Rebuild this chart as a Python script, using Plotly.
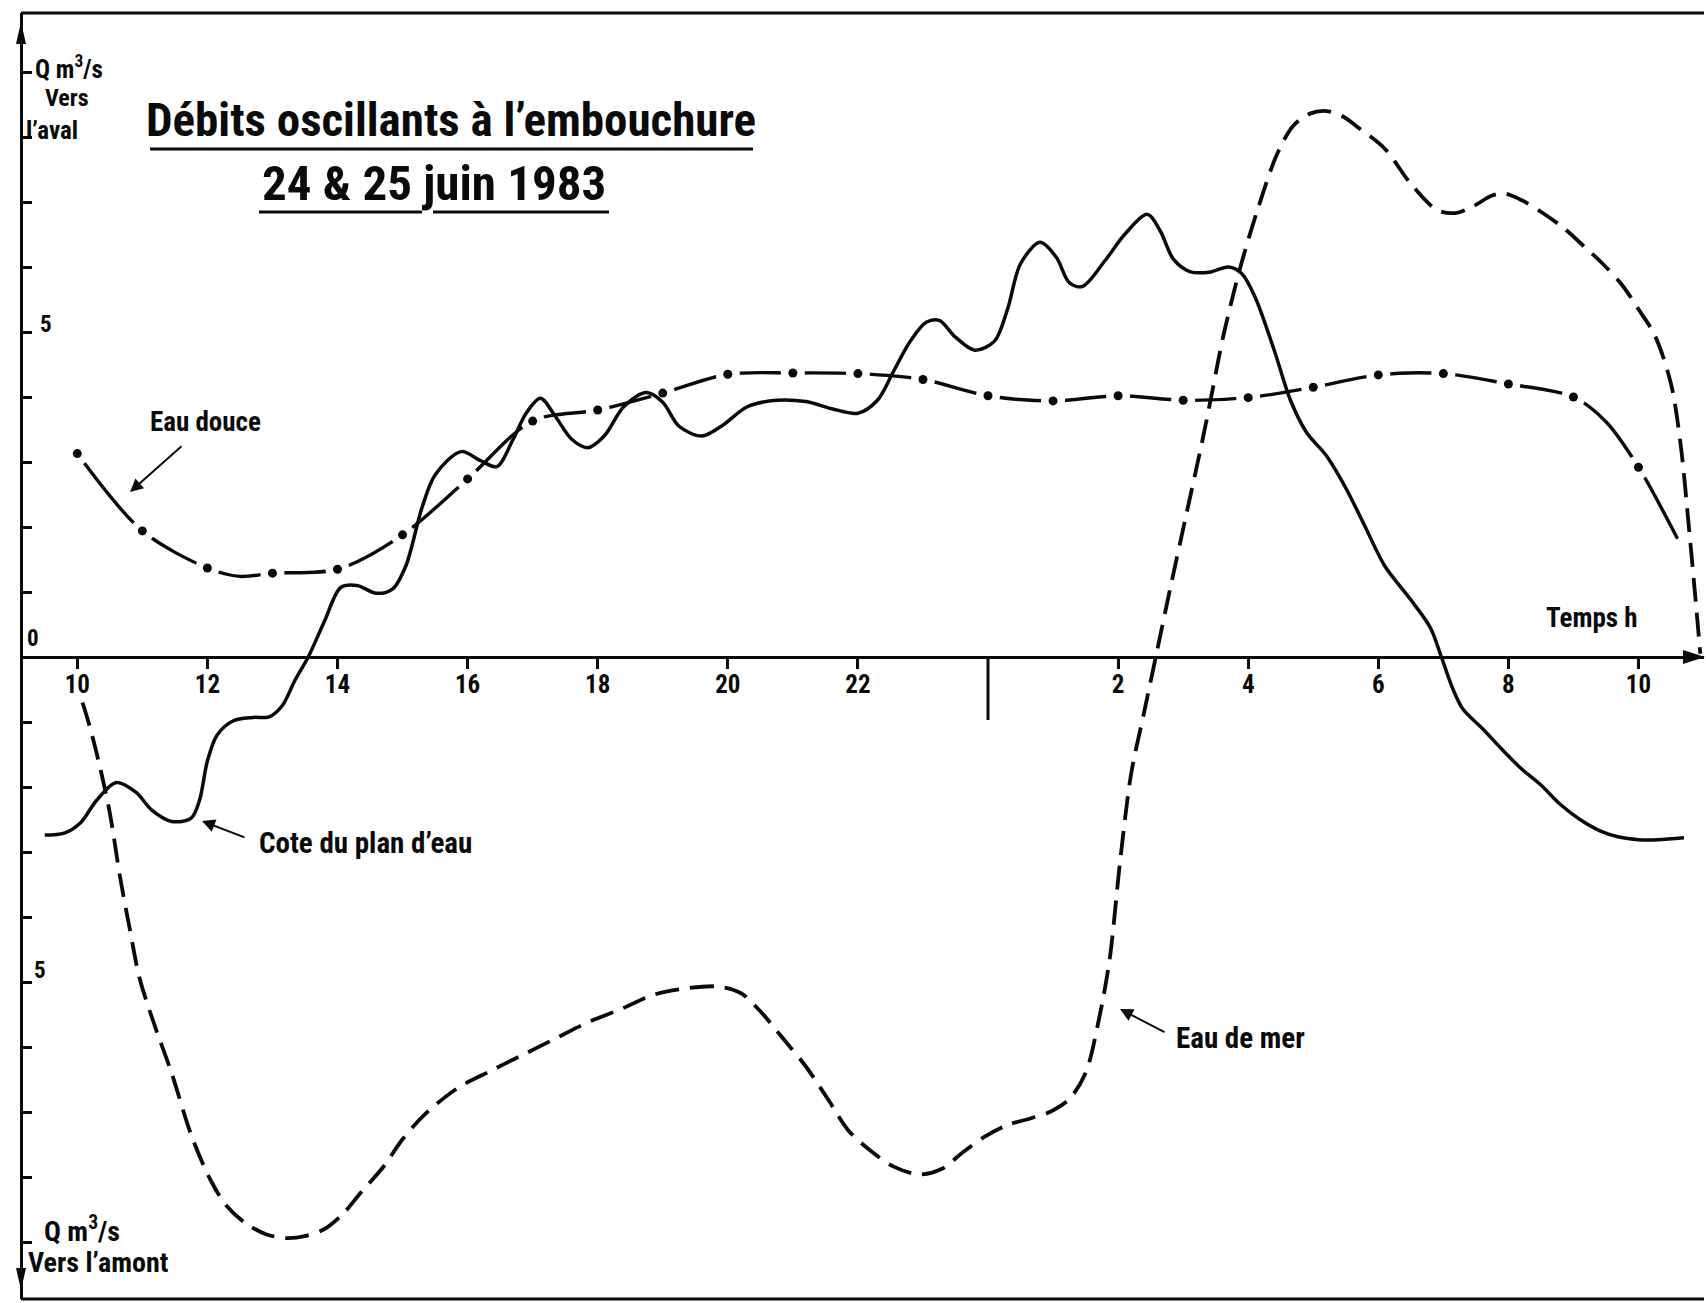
import plotly.graph_objects as go

# ---- time axis: hours counted from midnight of 24 June (24 = midnight) ----
X_TICK_HOURS = [10, 12, 14, 16, 18, 20, 22, 26, 28, 30, 32, 34]
X_TICK_TEXT = ["10", "12", "14", "16", "18", "20", "22", "2", "4", "6", "8", "10"]
MIDNIGHT = 24

# ---- discharge axis (m3/s): positive = towards the sea, negative = upstream ----
Y_TICKS = [-9, -8, -7, -6, -5, -4, -3, -2, -1, 1, 2, 3, 4, 5, 6, 7, 8, 9]

# Cote du plan d'eau (solid curve)
COTE_T = [9.5, 9.8, 10.05, 10.3, 10.6, 10.9, 11.15, 11.45, 11.75, 11.88, 12.0, 12.15,
          12.4, 12.7, 12.95, 13.15, 13.35, 13.55, 13.8, 14.05, 14.3, 14.6, 14.85, 15.05,
          15.3, 15.5, 15.9, 16.2, 16.45, 16.7, 16.9, 17.12, 17.35, 17.6, 17.85, 18.1,
          18.4, 18.75, 19.0, 19.25, 19.6, 19.9, 20.3, 20.75, 21.2, 21.6, 22.0, 22.3,
          22.55, 22.8, 23.05, 23.25, 23.5, 23.8, 24.1, 24.3, 24.5, 24.8, 25.05, 25.25,
          25.45, 25.8, 26.1, 26.45, 26.65, 26.85, 27.1, 27.4, 27.7, 27.9, 28.1, 28.4,
          28.65, 28.9, 29.2, 29.5, 29.8, 30.1, 30.5, 30.8, 30.97, 31.15, 31.3, 31.6,
          31.9, 32.2, 32.5, 32.8, 33.1, 33.4, 33.7, 34.0, 34.3, 34.7]
COTE_Q = [-2.74, -2.71, -2.55, -2.2, -1.93, -2.08, -2.36, -2.53, -2.48, -2.2, -1.6, -1.2,
          -0.98, -0.93, -0.92, -0.75, -0.35, 0.0, 0.55, 1.07, 1.1, 0.98, 1.05, 1.4,
          2.3, 2.8, 3.16, 3.02, 2.93, 3.35, 3.75, 3.98, 3.7, 3.35, 3.22, 3.4,
          3.85, 4.07, 3.92, 3.55, 3.4, 3.55, 3.85, 3.95, 3.93, 3.82, 3.75, 3.95,
          4.4, 4.85, 5.15, 5.18, 4.92, 4.72, 4.86, 5.35, 6.05, 6.38, 6.15, 5.76,
          5.7, 6.1, 6.5, 6.81, 6.55, 6.12, 5.93, 5.92, 6.0, 5.9, 5.55, 4.72,
          3.95, 3.45, 3.1, 2.6, 2.0, 1.4, 0.88, 0.45, 0.0, -0.5, -0.8, -1.1,
          -1.42, -1.72, -1.97, -2.27, -2.5, -2.67, -2.77, -2.81, -2.81, -2.78]

# Eau douce (dash-dot curve, hourly measurements marked by dots)
DOUCE_T = [10, 11, 12, 12.5, 13, 14, 15, 16, 17, 18, 19, 20, 21, 22, 23, 24, 25, 26,
           27, 28, 29, 30, 31, 32, 33, 33.5, 34, 34.6]
DOUCE_Q = [3.13, 1.94, 1.37, 1.24, 1.29, 1.35, 1.88, 2.74, 3.63, 3.80, 4.06, 4.35, 4.37,
           4.36, 4.27, 4.02, 3.94, 4.02, 3.95, 3.99, 4.15, 4.34, 4.36, 4.2, 4.0, 3.62,
           2.92, 1.82]

# Eau de mer (dashed curve)
MER_T = [10.08, 10.2, 10.35, 10.5, 10.66, 10.8, 10.96, 11.2, 11.45, 11.75, 12.05, 12.3,
         12.6, 12.9, 13.2, 13.5, 13.8, 14.1, 14.35, 14.7, 15.0, 15.35, 15.85, 16.35,
         16.85, 17.35, 17.85, 18.35, 18.85, 19.35, 19.85, 20.2, 20.5, 20.85, 21.2, 21.55,
         21.85, 22.2, 22.55, 22.95, 23.3, 23.6, 23.95, 24.3, 24.65, 24.95, 25.25, 25.5,
         25.7, 25.87, 26.03, 26.2, 26.4, 26.6, 26.8, 27.05, 27.3, 27.45, 27.62, 27.88,
         28.15, 28.45, 28.7, 28.95, 29.2, 29.45, 29.7, 30.1, 30.5, 30.9, 31.18, 31.45,
         31.75, 31.95, 32.2, 32.5, 32.85, 33.15, 33.45, 33.75, 34.0, 34.25, 34.5, 34.65,
         34.77, 34.88, 34.95]
MER_Q = [-0.7, -1.1, -1.7, -2.4, -3.4, -4.15, -4.95, -5.7, -6.4, -7.35, -8.05, -8.45,
         -8.72, -8.88, -8.94, -8.91, -8.8, -8.55, -8.25, -7.85, -7.42, -7.03, -6.63, -6.37,
         -6.12, -5.87, -5.62, -5.42, -5.2, -5.1, -5.07, -5.17, -5.45, -5.87, -6.3, -6.82,
         -7.28, -7.6, -7.84, -7.96, -7.87, -7.63, -7.38, -7.2, -7.1, -7.0, -6.8, -6.4,
         -5.6, -4.65, -3.15, -1.8, -0.85, 0.1, 1.05, 2.2, 3.35, 4.1, 4.95, 6.0,
         6.9, 7.75, 8.18, 8.36, 8.4, 8.32, 8.14, 7.82, 7.28, 6.88, 6.83, 6.93,
         7.1, 7.13, 7.03, 6.85, 6.6, 6.33, 6.05, 5.72, 5.35, 4.95, 4.2, 3.25,
         2.05, 0.85, 0.05]

# ---- page geometry ----
W, H = 1706, 1303
ML, MR, MT, MB = 21, 2, 13, 4
X_RANGE = [9.1345, 35.007]
Y_RANGE = [-9.877, 9.908]
PW, PH = W - ML - MR, H - MT - MB


def tx(px):
    """Pixel column -> hour on the time axis."""
    return X_RANGE[0] + (px - ML) * (X_RANGE[1] - X_RANGE[0]) / PW


def qy(py):
    """Pixel row -> discharge value."""
    return Y_RANGE[1] - (py - MT) * (Y_RANGE[1] - Y_RANGE[0]) / PH


def pxp(px):
    """Pixel column -> paper x."""
    return (px - ML) / PW


def pyp(py):
    """Pixel row -> paper y."""
    return 1 - (py - MT) / PH


FONT = "Roboto Condensed, DejaVu Sans Condensed, Liberation Sans Narrow, Roboto, sans-serif"
INK = "#0a0a0a"

fig = go.Figure()

# Eau douce: line, white gaps round each hourly dot, then the dots
fig.add_trace(go.Scatter(x=DOUCE_T, y=DOUCE_Q, mode="lines",
                         line=dict(color=INK, width=3.4, shape="spline", smoothing=0.9),
                         hoverinfo="skip", showlegend=False))
dot_t = [t for t in DOUCE_T if float(t).is_integer()]
dot_q = [q for t, q in zip(DOUCE_T, DOUCE_Q) if float(t).is_integer()]
fig.add_trace(go.Scatter(x=dot_t, y=dot_q, mode="markers",
                         marker=dict(color="white", size=24, line=dict(width=0)),
                         hoverinfo="skip", showlegend=False))
fig.add_trace(go.Scatter(x=dot_t, y=dot_q, mode="markers",
                         marker=dict(color=INK, size=9, line=dict(width=0)),
                         name="Eau douce", showlegend=False))

# Eau de mer: dashed
fig.add_trace(go.Scatter(x=MER_T, y=MER_Q, mode="lines",
                         line=dict(color=INK, width=3.8, dash="24px,11px",
                                   shape="spline", smoothing=0.9),
                         name="Eau de mer", showlegend=False))

# Cote du plan d'eau: solid
fig.add_trace(go.Scatter(x=COTE_T, y=COTE_Q, mode="lines",
                         line=dict(color=INK, width=3.5, shape="spline", smoothing=0.9),
                         name="Cote du plan d'eau", showlegend=False))

shapes = []
# frame lines top and bottom
for yp in (1, 0):
    shapes.append(dict(type="line", xref="paper", yref="paper", x0=0, x1=1,
                       y0=yp, y1=yp, line=dict(color=INK, width=3)))
# long midnight mark
shapes.append(dict(type="line", xref="x", yref="y", x0=MIDNIGHT, x1=MIDNIGHT,
                   y0=0, y1=qy(720), line=dict(color=INK, width=3)))
# axis arrowheads (paper coordinates so they are not clipped)
y_zero_p = -Y_RANGE[0] / (Y_RANGE[1] - Y_RANGE[0])
for path in (
    f"M 0,{pyp(22)} L {pxp(16)},{pyp(44)} L {pxp(26)},{pyp(44)} Z",
    f"M 0,{pyp(1290)} L {pxp(16)},{pyp(1268)} L {pxp(26)},{pyp(1268)} Z",
    f"M {pxp(1705)},{y_zero_p} L {pxp(1683)},{y_zero_p + 7 / PH} "
    f"L {pxp(1683)},{y_zero_p - 7 / PH} Z",
):
    shapes.append(dict(type="path", xref="paper", yref="paper", fillcolor=INK,
                       line=dict(width=0), path=path))
# title underlines
shapes.append(dict(type="line", xref="x", yref="y", x0=tx(150), x1=tx(753),
                   y0=qy(149), y1=qy(149), line=dict(color=INK, width=3)))
shapes.append(dict(type="line", xref="x", yref="y", x0=tx(259), x1=tx(422),
                   y0=qy(212), y1=qy(212), line=dict(color=INK, width=3)))
shapes.append(dict(type="line", xref="x", yref="y", x0=tx(433), x1=tx(609),
                   y0=qy(212), y1=qy(212), line=dict(color=INK, width=3)))


def label(text, px, py, size, anchor="center"):
    return dict(text=text, x=tx(px), y=qy(py), xref="x", yref="y", showarrow=False,
                xanchor=anchor, yanchor="middle",
                font=dict(family=FONT, size=size, color=INK, weight="bold"))


def pointer(px_head, py_head, px_tail, py_tail):
    return dict(text="", x=tx(px_head), y=qy(py_head), ax=tx(px_tail), ay=qy(py_tail),
                xref="x", yref="y", axref="x", ayref="y", showarrow=True,
                arrowhead=2, arrowsize=1.3, arrowwidth=2, arrowcolor=INK)


annotations = [
    label("Débits oscillants à l’embouchure", 451, 119, 47),
    label("24 & 25 juin 1983", 434, 183, 49),
    label("Q m<sup>3</sup>/s", 33, 67, 25, "left"),
    label("Vers", 67, 98, 24),
    label("l’aval", 24, 130, 25, "left"),
    label("5", 38, 324, 23, "left"),
    label("0", 25, 638, 23, "left"),
    label("5", 32, 970, 23, "left"),
    label("Q m<sup>3</sup>/s", 42, 1229, 28, "left"),
    label("Vers l’amont", 26, 1262, 28, "left"),
    label("Eau douce", 205, 422, 27),
    label("Cote du plan d’eau", 257, 843, 29, "left"),
    label("Eau de mer", 1174, 1038, 29, "left"),
    label("Temps h", 1592, 618, 27),
    pointer(130, 492, 183, 445),
    pointer(202, 821, 246, 838),
    pointer(1120, 1009, 1166, 1033),
]

fig.update_layout(
    width=W, height=H,
    margin=dict(l=ML, r=MR, t=MT, b=MB, pad=0),
    paper_bgcolor="white", plot_bgcolor="white",
    shapes=shapes, annotations=annotations,
    xaxis=dict(range=X_RANGE, anchor="free", position=y_zero_p,
               showgrid=False, zeroline=False, showline=True, linecolor=INK, linewidth=3,
               ticks="outside", ticklen=10, tickwidth=2.5, tickcolor=INK,
               ticklabelstandoff=-6,
               tickvals=X_TICK_HOURS, ticktext=X_TICK_TEXT,
               tickfont=dict(family=FONT, size=25, color=INK, weight="bold")),
    yaxis=dict(range=Y_RANGE, anchor="free", position=0,
               showgrid=False, zeroline=False, showline=True, linecolor=INK, linewidth=3,
               ticks="inside", ticklen=9, tickwidth=2.5, tickcolor=INK,
               tickvals=Y_TICKS, showticklabels=False),
)

fig.write_html("out.html")
